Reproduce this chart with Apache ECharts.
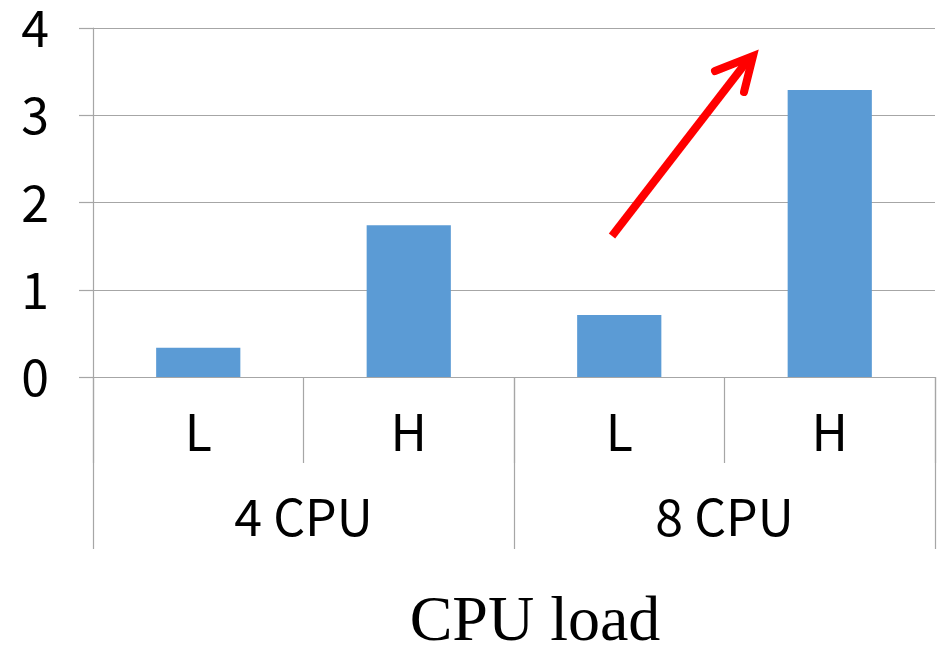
<!DOCTYPE html>
<html>
<head>
<meta charset="utf-8">
<script src="https://cdn.jsdelivr.net/npm/echarts@6/dist/echarts.min.js"></script>
<style>
  html, body { margin: 0; padding: 0; background: #fff; }
  #chart { width: 949px; height: 648px; }
</style>
</head>
<body>
<div id="chart"></div>
<script>
// Load levels within each CPU configuration
const loadLevels = ['L', 'H', 'L', 'H'];
// CPU configuration groups (each spans two load levels)
const cpuGroups = ['4 CPU', '8 CPU'];
// Measured values per bar
const values = [0.335, 1.74, 0.71, 3.29];
// Value axis ticks
const yTicks = [0, 1, 2, 3, 4];

const gray = '#a6a6a6';
const labelFont = '"Noto Sans CJK JP", "Noto Sans", sans-serif';

const chart = echarts.init(document.getElementById('chart'));

chart.setOption({
  animation: false,
  backgroundColor: '#ffffff',
  grid: { left: 93, right: 14, top: 28, bottom: 271, containLabel: false },
  title: {
    text: 'CPU load',
    left: 530,
    textAlign: 'center',
    top: 586,
    textStyle: {
      fontFamily: '"Liberation Serif", "Times New Roman", serif',
      fontWeight: 'normal',
      fontSize: 64,
      color: '#000'
    }
  },
  xAxis: [
    {
      type: 'category',
      data: loadLevels,
      position: 'bottom',
      boundaryGap: true,
      axisLine: { show: true, lineStyle: { color: gray, width: 1.2 } },
      axisTick: { show: true, interval: 0, length: 86, lineStyle: { color: gray, width: 1.2 } },
      axisLabel: { margin: 30, fontSize: 50, color: '#000', fontFamily: labelFont },
      splitLine: { show: false }
    },
    {
      type: 'category',
      data: cpuGroups,
      position: 'bottom',
      boundaryGap: true,
      axisLine: { show: false },
      axisTick: { show: true, interval: 0, length: 172, lineStyle: { color: gray, width: 1.2 } },
      axisLabel: { margin: 115, fontSize: 50, color: '#000', fontFamily: labelFont },
      splitLine: { show: false }
    }
  ],
  yAxis: {
    type: 'value',
    min: yTicks[0],
    max: yTicks[yTicks.length - 1],
    interval: 1,
    axisLine: { show: true, lineStyle: { color: gray, width: 1.2 } },
    axisTick: { show: true, length: 14, lineStyle: { color: gray, width: 1.2 } },
    axisLabel: { margin: 44, fontSize: 50, color: '#000', fontFamily: labelFont },
    splitLine: { show: true, lineStyle: { color: gray, width: 1.2 } }
  },
  series: [
    {
      type: 'bar',
      xAxisIndex: 0,
      data: values,
      barWidth: '40%',
      itemStyle: { color: '#5b9bd5' }
    }
  ],
  graphic: [
    {
      type: 'line',
      shape: { x1: 612, y1: 236, x2: 748, y2: 60 },
      style: { stroke: '#ff0000', lineWidth: 8 },
      z: 100
    },
    {
      type: 'polyline',
      shape: { points: [[715, 71], [753, 56], [744, 92]] },
      style: { stroke: '#ff0000', lineWidth: 8, lineCap: 'round', lineJoin: 'miter', fill: 'none' },
      z: 100
    }
  ]
});
</script>
</body>
</html>
